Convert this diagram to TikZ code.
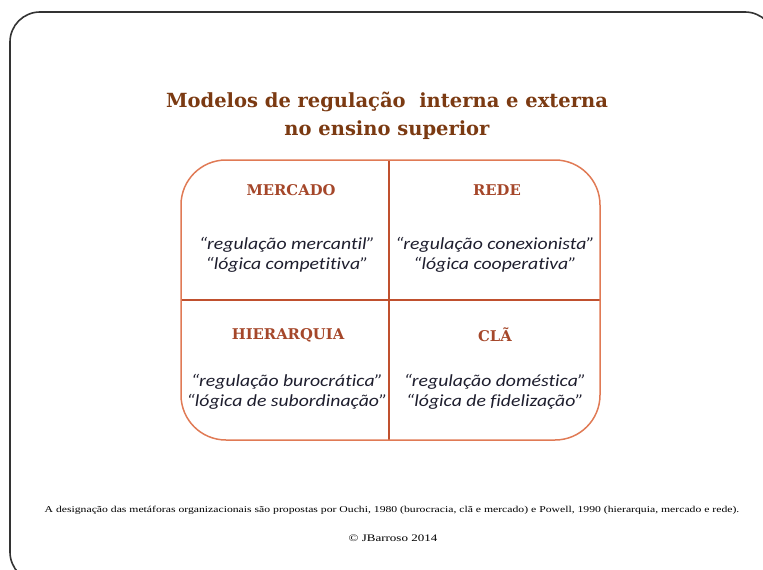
\documentclass[tikz,border=0pt]{standalone}
\usepackage{fontspec}
\setmainfont{Liberation Serif}
\newfontfamily\calfont[FakeStretch=1.16,Ligatures=NoCommon]{Carlito}
\newfontfamily\headfont{DejaVu Serif}
\newfontfamily\footfont[FakeStretch=1.3]{Liberation Serif}
\definecolor{titlec}{HTML}{7B3A12}
\definecolor{headc}{HTML}{A5472A}
\definecolor{gridout}{HTML}{E07A55}
\definecolor{gridin}{HTML}{C0502E}
\definecolor{framec}{HTML}{333333}
\definecolor{bodyc}{HTML}{1E1E2E}
\tikzset{
  titletext/.style={font=\headfont\fontsize{19.5}{28}\selectfont\bfseries, text=titlec, align=center},
  headtext/.style={font=\headfont\fontsize{14.8}{17}\selectfont\bfseries, text=headc},
  bodytext/.style={font=\calfont\fontsize{17}{20}\selectfont\itshape, text=bodyc, align=center},
  foottext/.style={font=\footfont\fontsize{9}{10}\selectfont, text=black},
  copytext/.style={font=\footfont\fontsize{10}{12}\selectfont, text=black},
}
\begin{document}
\begin{tikzpicture}[x=1pt,y=-1pt]
\useasboundingbox (0,0) rectangle (763,570);
\begin{scope}
\clip (0,0) rectangle (763,570);
\draw[framec, line width=1.6pt, rounded corners=30pt] (10,12) rectangle (775,582);
\end{scope}
\node[titletext] (title) at (387,116) {Modelos de regulação\ \ interna e externa\\no ensino superior};
\coordinate (tm) at (389,160);
\coordinate (bm) at (389,440);
\coordinate (lm) at (181,300);
\coordinate (rm) at (600,300);
\draw[gridin, line width=1.3pt] (tm) -- (bm);
\draw[gridin, line width=1.3pt] (lm) -- (rm);
\draw[gridout, line width=1.5pt, rounded corners=45pt] (181,160) rectangle (600,440);
\node[headtext] (mercado) at (291,190) {MERCADO};
\node[headtext] (rede) at (497,190) {REDE};
\node[headtext] (hier) at (288,335) {HIERARQUIA};
\node[headtext] (cla) at (495,335) {CLÃ};
\node[bodytext] (t1) at (287,255) {“regulação mercantil”\\“lógica competitiva”};
\node[bodytext] (t2) at (495,255) {“regulação conexionista”\\“lógica cooperativa”};
\node[bodytext] (t3) at (287,392) {“regulação burocrática”\\“lógica de subordinação”};
\node[bodytext] (t4) at (495,392) {“regulação doméstica”\\“lógica de fidelização”};
\node[foottext] (foot) at (392,510) {A designação das metáforas organizacionais são propostas por Ouchi, 1980 (burocracia, clã e mercado) e Powell, 1990 (hierarquia, mercado e rede).};
\node[copytext] (copy) at (393,538) {© JBarroso 2014};
\end{tikzpicture}
\end{document}
